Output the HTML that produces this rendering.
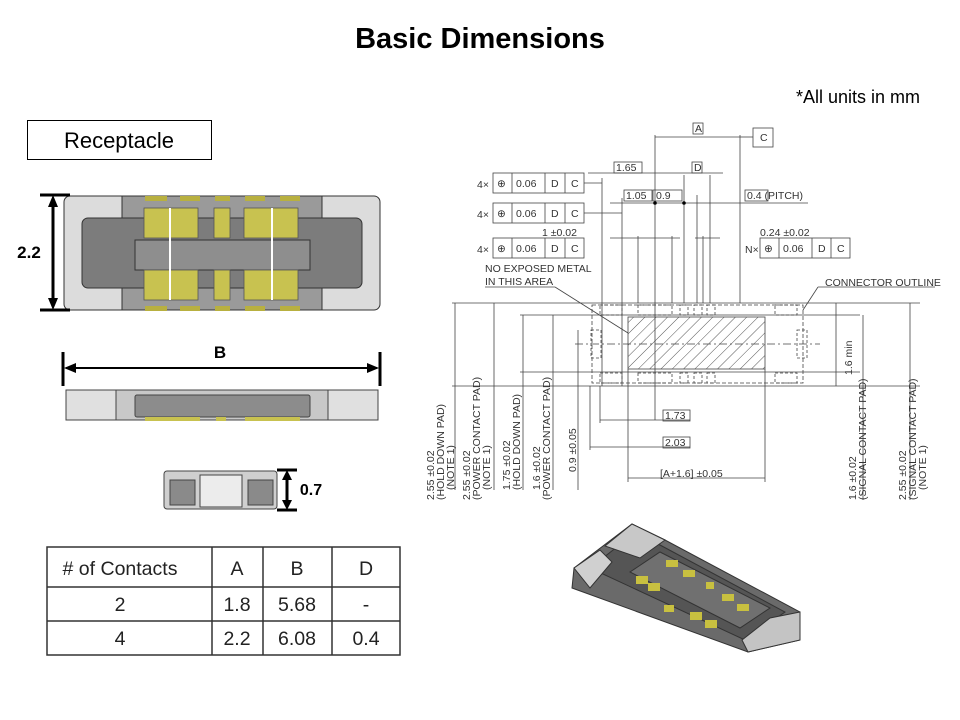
<!DOCTYPE html>
<html><head><meta charset="utf-8"><style>
body{margin:0;background:#fff;width:960px;height:720px;overflow:hidden}
svg{display:block}
.d{font-family:"Liberation Sans Narrow","Liberation Sans",sans-serif;font-size:10.5px;fill:#333}
</style></head><body>
<svg width="960" height="720" viewBox="0 0 960 720" xmlns="http://www.w3.org/2000/svg">
<defs>
<pattern id="h" width="8" height="8" patternUnits="userSpaceOnUse" patternTransform="rotate(45)"><line x1="0" y1="0" x2="0" y2="8" stroke="#555" stroke-width="1"/></pattern>
</defs>
<text x="480" y="48" text-anchor="middle" font-family="Liberation Sans" font-weight="bold" font-size="29">Basic Dimensions</text>
<text x="920" y="103" text-anchor="end" font-family="Liberation Sans" font-size="18">*All units in mm</text>
<rect x="27.5" y="120.5" width="184" height="39" fill="#fff" stroke="#000"/>
<text x="119" y="148" text-anchor="middle" font-family="Liberation Sans" font-size="22">Receptacle</text>

<!-- top view connector -->
<g stroke="#333" stroke-width="1">
<rect x="64" y="196" width="316" height="114" rx="6" fill="#dcdcdc"/>
<rect x="122" y="196" width="200" height="114" fill="#9a9a9a"/>
<rect x="82" y="218" width="280" height="70" rx="6" fill="#7c7c7c"/>
<rect x="135" y="240" width="175" height="30" fill="#8e8e8e"/>
</g>
<g fill="#c8c250" stroke="#555" stroke-width="0.8">
<rect x="144" y="208" width="54" height="30"/><rect x="144" y="270" width="54" height="30"/>
<rect x="214" y="208" width="16" height="30"/><rect x="214" y="270" width="16" height="30"/>
<rect x="244" y="208" width="54" height="30"/><rect x="244" y="270" width="54" height="30"/>
</g>
<g fill="#b8b040"><rect x="145" y="196" width="22" height="5"/><rect x="180" y="196" width="20" height="5"/><rect x="215" y="196" width="15" height="5"/><rect x="245" y="196" width="20" height="5"/><rect x="280" y="196" width="20" height="5"/>
<rect x="145" y="306" width="22" height="5"/><rect x="180" y="306" width="20" height="5"/><rect x="215" y="306" width="15" height="5"/><rect x="245" y="306" width="20" height="5"/><rect x="280" y="306" width="20" height="5"/></g>
<line x1="170" y1="208" x2="170" y2="300" stroke="#fff" stroke-width="2"/>
<line x1="272" y1="208" x2="272" y2="300" stroke="#fff" stroke-width="2"/>
<g stroke="#000" stroke-width="3"><line x1="40" y1="195" x2="70" y2="195"/><line x1="40" y1="310" x2="70" y2="310"/><line x1="53" y1="200" x2="53" y2="305"/></g>
<polygon points="53,195 48,207 58,207"/><polygon points="53,310 48,298 58,298"/>
<text x="29" y="258" text-anchor="middle" font-family="Liberation Sans" font-weight="bold" font-size="17">2.2</text>

<!-- side view -->
<g stroke="#000" stroke-width="3"><line x1="63" y1="352" x2="63" y2="386"/><line x1="380" y1="352" x2="380" y2="386"/></g>
<line x1="66" y1="368" x2="377" y2="368" stroke="#000" stroke-width="2"/>
<polygon points="64,368 76,363 76,373"/><polygon points="379,368 367,363 367,373"/>
<text x="220" y="358" text-anchor="middle" font-family="Liberation Sans" font-weight="bold" font-size="17">B</text>
<g stroke="#444" stroke-width="1">
<rect x="66" y="390" width="312" height="30" fill="#c8c8c8"/>
<rect x="66" y="390" width="50" height="30" fill="#e0e0e0"/><rect x="328" y="390" width="50" height="30" fill="#e0e0e0"/>
<rect x="135" y="395" width="175" height="22" rx="2" fill="#8c8c8c"/>
</g>
<g fill="#c8c250"><rect x="145" y="417" width="55" height="4"/><rect x="216" y="417" width="10" height="4"/><rect x="245" y="417" width="55" height="4"/></g>

<!-- end view -->
<g stroke="#444" stroke-width="1">
<rect x="164" y="471" width="113" height="38" rx="3" fill="#cfcfcf"/>
<rect x="170" y="480" width="25" height="25" fill="#8a8a8a"/><rect x="248" y="480" width="25" height="25" fill="#8a8a8a"/>
<rect x="200" y="475" width="42" height="32" fill="#ececec"/>
</g>
<g stroke="#000" stroke-width="3"><line x1="277" y1="470" x2="297" y2="470"/><line x1="277" y1="510" x2="297" y2="510"/><line x1="287" y1="474" x2="287" y2="506"/></g>
<polygon points="287,470 282,480 292,480"/><polygon points="287,510 282,500 292,500"/>
<text x="311" y="495" text-anchor="middle" font-family="Liberation Sans" font-weight="bold" font-size="16">0.7</text>

<!-- table -->
<g stroke="#333" stroke-width="1.5" fill="none">
<rect x="47" y="547" width="353" height="108"/>
<line x1="212" y1="547" x2="212" y2="655"/><line x1="263" y1="547" x2="263" y2="655"/><line x1="332" y1="547" x2="332" y2="655"/>
<line x1="47" y1="587" x2="400" y2="587"/><line x1="47" y1="621" x2="400" y2="621"/>
</g>
<g font-family="Liberation Sans" font-size="19.5" text-anchor="middle" fill="#222">
<text x="120" y="575"># of Contacts</text><text x="237" y="575">A</text><text x="297" y="575">B</text><text x="366" y="575">D</text>
<text x="120" y="611">2</text><text x="237" y="611">1.8</text><text x="297" y="611">5.68</text><text x="366" y="611">-</text>
<text x="120" y="645">4</text><text x="237" y="645">2.2</text><text x="297" y="645">6.08</text><text x="366" y="645">0.4</text>
</g>

<!-- technical drawing -->
<g stroke="#444" stroke-width="0.8" fill="none">
<line x1="452" y1="303" x2="920" y2="303"/><line x1="452" y1="386" x2="920" y2="386"/>
<line x1="520" y1="315" x2="860" y2="315"/><line x1="520" y1="372" x2="860" y2="372"/>
<rect x="592" y="305" width="211" height="78" stroke-dasharray="4,2"/>
<line x1="575" y1="344" x2="820" y2="344" stroke-dasharray="8,3,2,3"/>
<rect x="591" y="330" width="10" height="28" stroke-dasharray="3,2"/>
<rect x="797" y="330" width="10" height="28" stroke-dasharray="3,2"/>
<g stroke-dasharray="3,2">
<rect x="600" y="305" width="22" height="10"/><rect x="638" y="305" width="34" height="10"/><rect x="680" y="305" width="8" height="10"/><rect x="694" y="305" width="8" height="10"/><rect x="707" y="305" width="8" height="10"/><rect x="775" y="305" width="22" height="10"/>
<rect x="600" y="373" width="22" height="10"/><rect x="638" y="373" width="34" height="10"/><rect x="680" y="373" width="8" height="10"/><rect x="694" y="373" width="8" height="10"/><rect x="707" y="373" width="8" height="10"/><rect x="775" y="373" width="22" height="10"/>
</g>
<rect x="628" y="317" width="137" height="52" fill="url(#h)"/>
<line x1="602" y1="178" x2="602" y2="386"/><line x1="622" y1="198" x2="622" y2="386"/>
<line x1="638" y1="236" x2="638" y2="303"/><line x1="655" y1="135" x2="655" y2="420"/><line x1="672" y1="236" x2="672" y2="303"/>
<line x1="684" y1="175" x2="684" y2="303"/><line x1="697" y1="195" x2="697" y2="303"/><line x1="703" y1="236" x2="703" y2="303"/>
<line x1="710" y1="175" x2="710" y2="303"/><line x1="740" y1="135" x2="740" y2="303"/>
<line x1="628" y1="369" x2="628" y2="482"/><line x1="765" y1="369" x2="765" y2="482"/>
<line x1="600" y1="386" x2="600" y2="423"/><line x1="590" y1="386" x2="590" y2="450"/>
<line x1="655" y1="137" x2="740" y2="137"/><line x1="740" y1="137" x2="753" y2="137"/>
<line x1="588" y1="173" x2="723" y2="173"/>
<line x1="610" y1="203" x2="808" y2="203"/>
<line x1="610" y1="238" x2="680" y2="238"/><line x1="695" y1="238" x2="720" y2="238"/>
<line x1="584" y1="183" x2="602" y2="183"/><line x1="584" y1="213" x2="622" y2="213"/>
<line x1="600" y1="420" x2="690" y2="420"/><line x1="590" y1="447" x2="690" y2="447"/><line x1="628" y1="478" x2="765" y2="478"/>
<line x1="485" y1="287" x2="555" y2="287"/><line x1="555" y1="287" x2="628" y2="333"/>
<line x1="818" y1="287" x2="935" y2="287"/><line x1="818" y1="287" x2="803" y2="310"/>
<line x1="836" y1="303" x2="836" y2="386"/><line x1="863" y1="315" x2="863" y2="500"/><line x1="910" y1="303" x2="910" y2="500"/>
<line x1="455" y1="303" x2="455" y2="490"/><line x1="494" y1="303" x2="494" y2="490"/><line x1="523" y1="315" x2="523" y2="490"/><line x1="553" y1="315" x2="553" y2="490"/><line x1="578" y1="330" x2="578" y2="490"/>
<rect x="693" y="123" width="10" height="11"/><rect x="753" y="128" width="20" height="19"/>
<rect x="614" y="162" width="28" height="11"/><rect x="692" y="162" width="10" height="11"/>
<rect x="624" y="190" width="28" height="11"/><rect x="653" y="190" width="29" height="11"/><rect x="745" y="190" width="23" height="11"/>
<rect x="663" y="410" width="27" height="11"/><rect x="663" y="437" width="27" height="11"/>
<rect x="493" y="173" width="91" height="20"/><rect x="493" y="203" width="91" height="20"/><rect x="493" y="238" width="91" height="20"/><rect x="760" y="238" width="90" height="20"/>
<line x1="512" y1="173" x2="512" y2="193"/><line x1="545" y1="173" x2="545" y2="193"/><line x1="565" y1="173" x2="565" y2="193"/>
<line x1="512" y1="203" x2="512" y2="223"/><line x1="545" y1="203" x2="545" y2="223"/><line x1="565" y1="203" x2="565" y2="223"/>
<line x1="512" y1="238" x2="512" y2="258"/><line x1="545" y1="238" x2="545" y2="258"/><line x1="565" y1="238" x2="565" y2="258"/>
<line x1="779" y1="238" x2="779" y2="258"/><line x1="812" y1="238" x2="812" y2="258"/><line x1="831" y1="238" x2="831" y2="258"/>
</g>
<circle cx="655" cy="203" r="1.8" fill="#000"/><circle cx="684" cy="203" r="1.8" fill="#000"/>
<g class="d">
<text x="695" y="132">A</text><text x="760" y="141">C</text>
<text x="616" y="171">1.65</text><text x="694" y="171">D</text>
<text x="626" y="199">1.05</text><text x="656" y="199">0.9</text><text x="747" y="199">0.4 (PITCH)</text>
<text x="477" y="188">4×</text><text x="477" y="218">4×</text><text x="477" y="253">4×</text><text x="745" y="253">N×</text>
<text x="497" y="187">⊕</text><text x="516" y="187">0.06</text><text x="551" y="187">D</text><text x="571" y="187">C</text>
<text x="497" y="217">⊕</text><text x="516" y="217">0.06</text><text x="551" y="217">D</text><text x="571" y="217">C</text>
<text x="497" y="252">⊕</text><text x="516" y="252">0.06</text><text x="551" y="252">D</text><text x="571" y="252">C</text>
<text x="764" y="252">⊕</text><text x="783" y="252">0.06</text><text x="818" y="252">D</text><text x="837" y="252">C</text>
<text x="542" y="236">1  ±0.02</text><text x="760" y="236">0.24  ±0.02</text>
<text x="485" y="272">NO EXPOSED METAL</text><text x="485" y="285">IN THIS AREA</text>
<text x="825" y="286">CONNECTOR OUTLINE</text>
<text x="665" y="419">1.73</text><text x="665" y="446">2.03</text>
<text x="660" y="477">[A+1.6]   ±0.05</text>
<text transform="translate(852,375) rotate(-90)">1.6 min</text>
<text transform="translate(434,500) rotate(-90)">2.55 ±0.02</text><text transform="translate(444,500) rotate(-90)">(HOLD DOWN PAD)</text><text transform="translate(454,490) rotate(-90)">(NOTE 1)</text>
<text transform="translate(470,500) rotate(-90)">2.55 ±0.02</text><text transform="translate(480,500) rotate(-90)">(POWER CONTACT PAD)</text><text transform="translate(490,490) rotate(-90)">(NOTE 1)</text>
<text transform="translate(510,490) rotate(-90)">1.75 ±0.02</text><text transform="translate(520,490) rotate(-90)">(HOLD DOWN PAD)</text>
<text transform="translate(540,490) rotate(-90)">1.6 ±0.02</text><text transform="translate(550,500) rotate(-90)">(POWER CONTACT PAD)</text>
<text transform="translate(576,472) rotate(-90)">0.9 ±0.05</text>
<text transform="translate(856,500) rotate(-90)">1.6 ±0.02</text><text transform="translate(866,500) rotate(-90)">(SIGNAL CONTACT PAD)</text>
<text transform="translate(906,500) rotate(-90)">2.55 ±0.02</text><text transform="translate(916,500) rotate(-90)">(SIGNAL CONTACT PAD)</text><text transform="translate(926,490) rotate(-90)">(NOTE 1)</text>
</g>

<!-- 3D connector -->
<g stroke="#333" stroke-width="1">
<polygon points="574,568 632,524 665,540 800,612 800,640 748,652 572,588" fill="#6a6a6a"/>
<polygon points="590,568 635,533 660,545 785,612 745,640" fill="#555"/>
<polygon points="630,572 660,552 770,608 740,628" fill="#707070"/>
<polygon points="574,568 600,550 612,562 590,588" fill="#d0d0d0"/>
<polygon points="605,546 632,524 665,540 640,558" fill="#c8c8c8"/>
<polygon points="742,640 770,618 800,612 800,640 748,652" fill="#c4c4c4"/>
</g>
<g fill="#c8c040">
<rect x="636" y="576" width="12" height="8"/><rect x="648" y="583" width="12" height="8"/><rect x="664" y="605" width="10" height="7"/><rect x="690" y="612" width="12" height="8"/><rect x="705" y="620" width="12" height="8"/>
<rect x="666" y="560" width="12" height="7"/><rect x="683" y="570" width="12" height="7"/><rect x="706" y="582" width="8" height="7"/><rect x="722" y="594" width="12" height="7"/><rect x="737" y="604" width="12" height="7"/>
</g>
</svg>
</body></html>
